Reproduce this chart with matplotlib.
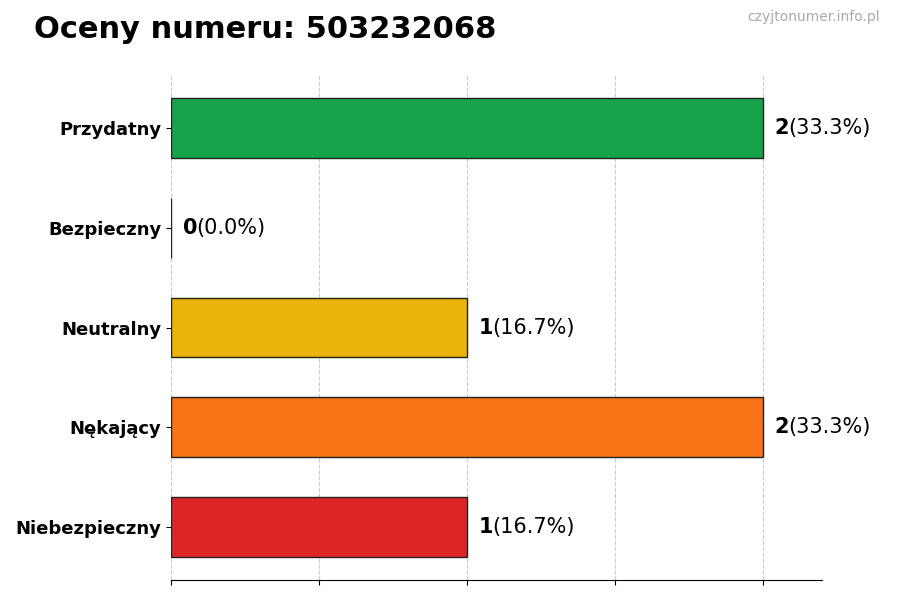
import matplotlib
matplotlib.use("Agg")
import matplotlib.pyplot as plt

categories = ["Przydatny", "Bezpieczny", "Neutralny", "Nękający", "Niebezpieczny"]
counts = [2, 0, 1, 2, 1]
percents = ["33.3%", "0.0%", "16.7%", "33.3%", "16.7%"]
colors = ["#16a34a", "#a3a3a3", "#eab308", "#f97316", "#dc2626"]

fig = plt.figure(figsize=(9, 6), dpi=100)
ax = fig.add_axes([171/900, 20/600, 651/900, 505/600])
y = list(range(len(categories)))[::-1]
ax.barh(y, counts, height=0.6, color=colors, edgecolor="#222222", linewidth=1, zorder=3)
ax.set_xlim(0, 2.2)
ax.set_ylim(-0.53, 4.53)
ax.set_yticks(y)
ax.set_yticklabels(categories, fontsize=13, fontweight="bold")
ax.set_xticks([0, 0.5, 1, 1.5, 2])
ax.set_xticklabels([])
ax.grid(axis="x", linestyle="--", color="#cccccc", linewidth=0.8, zorder=0)
for s in ["top", "right", "left"]:
    ax.spines[s].set_visible(False)
for yi, c, p in zip(y, counts, percents):
    ax.annotate(str(c), (c, yi), xytext=(8.5, 0), textcoords="offset points",
                va="center", ha="left", fontsize=15, fontweight="bold")
    ax.annotate(f"({p})", (c, yi), xytext=(18.5, 0), textcoords="offset points",
                va="center", ha="left", fontsize=15)
fig.text(34/900, 1 - 30/600, "Oceny numeru: 503232068", fontsize=22, fontweight="bold", va="center", ha="left")
fig.text(880/900, 1 - 17/600, "czyjtonumer.info.pl", fontsize=10, color="#aaaaaa", va="center", ha="right")
fig.savefig("out.png", dpi=100)
